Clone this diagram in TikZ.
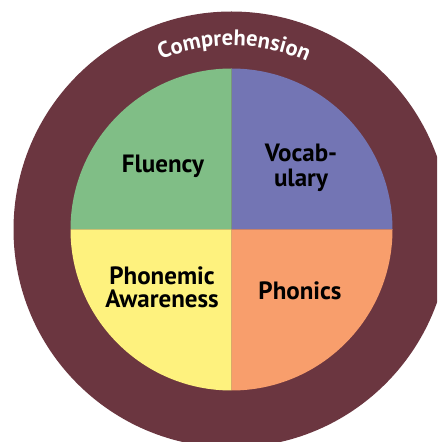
\documentclass[tikz,border=0pt]{standalone}
\usepackage{fontspec}
\setmainfont{PT Sans}
\newfontfamily\labfont{PT Sans}[BoldFont={PT Sans Bold}]
\newfontfamily\compfont{PT Sans Bold}
\usetikzlibrary{decorations.text}
\definecolor{maroon}{RGB}{107,54,64}
\definecolor{qgreen}{RGB}{128,190,134}
\definecolor{qblue}{RGB}{115,117,180}
\definecolor{qyellow}{RGB}{254,242,126}
\definecolor{qorange}{RGB}{248,158,108}
\tikzset{
  lab/.style={anchor=base, inner sep=0pt, text=black, font=\labfont\bfseries\fontsize{25}{27}\selectfont},
}
\begin{document}
\begin{tikzpicture}[x=1pt,y=1pt]
\useasboundingbox (0,0) rectangle (437,442);
\clip (0,0) rectangle (437,442);
\fill[white] (0,0) rectangle (437,442);
\coordinate (c) at (231.5,212.5);
\fill[maroon] (c) circle (218);
\fill[qblue] (c) -- ++(161,0) arc (0:90:161) -- cycle;
\fill[qgreen] (c) -- ++(0,161) arc (90:180:161) -- cycle;
\fill[qyellow] (c) -- ++(-161,0) arc (180:270:161) -- cycle;
\fill[qorange] (c) -- ++(0,-161) arc (270:360:161) -- cycle;
\path[decorate, decoration={text along path, text align=center,
  text={|\compfont\fontsize{22.5}{22.5}\selectfont\color{white}|Comprehension}}]
  (c) ++(150:184) arc (150:28.4:184);
\node[lab] (flu) at (163,269) {Fluency};
\node[lab] (voc1) at (301,280) {Vocab-};
\node[lab] (voc2) at (301,255) {ulary};
\node[lab] (pho1) at (162,157) {Phonemic};
\node[lab] (pho2) at (162,134) {Awareness};
\node[lab] (phn) at (300,142) {Phonics};
\end{tikzpicture}
\end{document}
